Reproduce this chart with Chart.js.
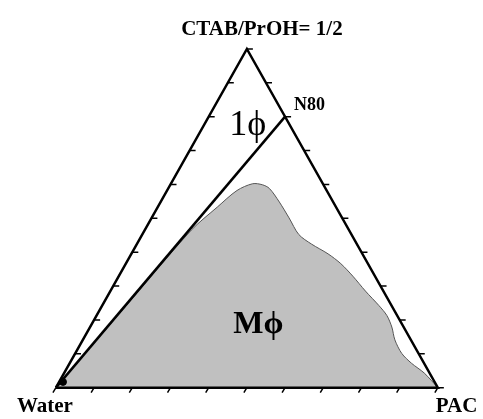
<!DOCTYPE html>
<html>
<head>
<meta charset="utf-8">
<script src="https://cdn.jsdelivr.net/npm/chart.js@4/dist/chart.umd.min.js"></script>
<style>
  body { margin: 0; background: #fff; }
  canvas { display: block; }
</style>
</head>
<body>
<canvas id="myChart" width="483" height="419"></canvas>
<script>
// Ternary data, in % : pac = PAC, surf = CTAB/PrOH (1/2), water = rest
// Mphi region boundary (from Water corner, up along the N80 line, down to PAC)
var boundaryPac  = [0, 6.0, 12.2, 15.6, 18.3, 21.4, 24.1, 26.5, 31.1, 36.0, 41.0, 45.7, 51.5, 56.3, 61.3, 66.8, 72.5, 76.0, 79.0, 81.7, 85.5, 89.5, 94.3, 100];
var boundarySurf = [0, 23.0, 46.5, 53.3, 58.2, 60.2, 59.9, 58.8, 54.8, 50.1, 45.2, 42.4, 39.5, 36.6, 32.9, 28.5, 24.2, 21.3, 17.9, 14.1, 10.1, 7.2, 4.3, 0];

// dilution line Water -> N80
var dilutionPac  = [0, 20];
var dilutionSurf = [0, 80];

// corners
var cornerNames = ["Water", "PAC", "CTAB/PrOH= 1/2"];
var cornerPac   = [0, 100, 0];
var cornerSurf  = [0, 0, 100];

var tickSteps = [0, 10, 20, 30, 40, 50, 60, 70, 80, 90, 100];

var pointName = "N80";
var phaseNames = ["1\u03D5", "M\u03D5"];
var phasePac   = [12.9, 44.7];
var phaseSurf  = [74.6, 16.1];

function toXY(pac, surf) {
  return { x: (pac + surf / 2) / 100, y: surf / 100 };
}

var boundary = boundaryPac.map(function (p, i) { return toXY(p, boundarySurf[i]); });
var dilution = dilutionPac.map(function (p, i) { return toXY(p, dilutionSurf[i]); });
var outline = [0, 1, 2, 0].map(function (i) { return toXY(cornerPac[i], cornerSurf[i]); });

var ternaryDeco = {
  id: 'ternaryDeco',
  afterDatasetsDraw: function (chart) {
    var ctx = chart.ctx;
    var sx = chart.scales.x, sy = chart.scales.y;
    function px(pac, surf) {
      var p = toXY(pac, surf);
      return { x: sx.getPixelForValue(p.x), y: sy.getPixelForValue(p.y) };
    }
    ctx.save();
    ctx.strokeStyle = '#000';
    ctx.lineWidth = 1.5;
    ctx.beginPath();
    tickSteps.forEach(function (t) {
      // bottom edge: Water -> PAC
      var b = px(t, 0);
      ctx.moveTo(b.x, b.y);
      ctx.lineTo(b.x - 3, b.y + 5);
      // left edge: top -> Water
      var l = px(0, 100 - t);
      ctx.moveTo(l.x, l.y);
      ctx.lineTo(l.x + 6, l.y);
      // right edge: top -> PAC
      var r = px(t, 100 - t);
      ctx.moveTo(r.x, r.y);
      ctx.lineTo(r.x + 6, r.y);
    });
    ctx.stroke();

    ctx.fillStyle = '#000';
    ctx.textBaseline = 'alphabetic';
    var w = px(cornerPac[0], cornerSurf[0]);
    var p = px(cornerPac[1], cornerSurf[1]);
    var t = px(cornerPac[2], cornerSurf[2]);
    ctx.font = 'bold 21px "Liberation Serif", "DejaVu Serif", serif';
    ctx.textAlign = 'center';
    ctx.fillText(cornerNames[0], w.x - 11, w.y + 24);
    ctx.textAlign = 'left';
    ctx.fillText(cornerNames[1], p.x - 2, p.y + 24);
    ctx.font = 'bold 21px "Liberation Serif", "DejaVu Serif", serif';
    ctx.textAlign = 'center';
    ctx.fillText(cornerNames[2], t.x + 15, t.y - 14);

    var n = px(dilutionPac[1], dilutionSurf[1]);
    ctx.font = 'bold 18px "Liberation Serif", "DejaVu Serif", serif';
    ctx.textAlign = 'left';
    ctx.fillText(pointName, n.x + 9, n.y - 7);

    var a = px(phasePac[0], phaseSurf[0]);
    ctx.font = '36px "Liberation Serif", "DejaVu Serif", serif';
    ctx.textAlign = 'center';
    ctx.fillText(phaseNames[0], a.x, a.y);
    var m = px(phasePac[1], phaseSurf[1]);
    ctx.font = 'bold 32px "Liberation Serif", "DejaVu Serif", serif';
    ctx.fillText(phaseNames[1], m.x + 1, m.y);
    ctx.restore();
  }
};

new Chart("myChart", {
  type: "scatter",
  data: {
    datasets: [{
      data: outline,
      showLine: true,
      borderColor: "#000",
      borderWidth: 2.5,
      pointRadius: 0,
      order: 1
    }, {
      data: dilution,
      showLine: true,
      borderColor: "#000",
      borderWidth: 2.5,
      pointRadius: 0,
      order: 2
    }, {
      data: [toXY(1, 1.7)],
      pointRadius: 3.5,
      backgroundColor: "#000",
      borderColor: "#000",
      order: 0
    }, {
      data: boundary,
      showLine: true,
      fill: 'origin',
      backgroundColor: "#c0c0c0",
      borderColor: "#555",
      borderWidth: 1,
      pointRadius: 0,
      tension: 0.3,
      order: 10
    }]
  },
  options: {
    responsive: false,
    animation: false,
    devicePixelRatio: 1,
    layout: { padding: 0 },
    plugins: {
      legend: { display: false },
      tooltip: { enabled: false }
    },
    scales: {
      x: { type: 'linear', display: false, min: -52 / 390, max: 431 / 390 },
      y: { type: 'linear', display: false, min: -27 / 347, max: 392 / 347 }
    }
  },
  plugins: [ternaryDeco]
});
</script>
</body>
</html>
